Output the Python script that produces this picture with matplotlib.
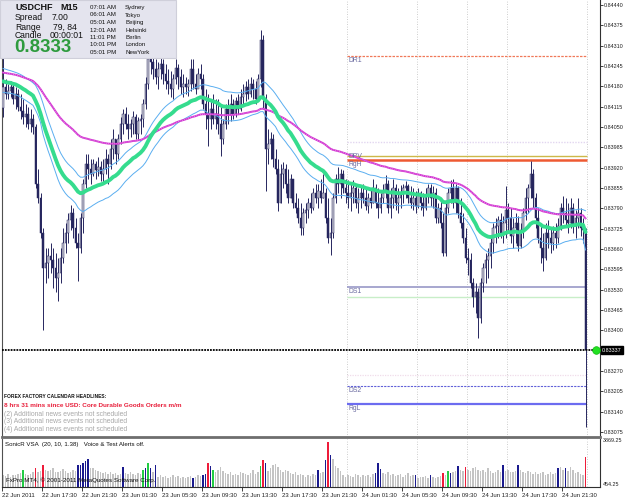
import matplotlib
matplotlib.use('Agg')
import matplotlib.pyplot as plt
from matplotlib.patches import Rectangle
from matplotlib.transforms import blended_transform_factory

# ---------------------------------------------------------
# USDCHF M15 bars, 22 Jun 2011 13:30 -> 24 Jun 2011 23:45
# ---------------------------------------------------------
first_open = 0.84110

highs = [
    0.84272, 0.84202, 0.84186, 0.84196, 0.84186, 0.84177, 0.84171, 0.84155, 0.84139, 0.84123,
    0.84114, 0.84107, 0.84091, 0.84060, 0.83917, 0.83838, 0.83727, 0.83663, 0.83663, 0.83679,
    0.83663, 0.83647, 0.83632, 0.83663, 0.83727, 0.83743, 0.83774, 0.83800, 0.83790, 0.83758,
    0.83711, 0.83774, 0.83885, 0.83964, 0.83964, 0.83949, 0.83949, 0.83942, 0.83955, 0.83942,
    0.83949, 0.83980, 0.83964, 0.84012, 0.84044, 0.84012, 0.84028, 0.84082, 0.84107, 0.84114,
    0.84091, 0.84075, 0.84101, 0.84091, 0.84082, 0.84091, 0.84139, 0.84209, 0.84282, 0.84297,
    0.84282, 0.84266, 0.84259, 0.84272, 0.84266, 0.84250, 0.84234, 0.84228, 0.84218, 0.84266,
    0.84250, 0.84234, 0.84218, 0.84209, 0.84202, 0.84266, 0.84266, 0.84218, 0.84240, 0.84250,
    0.84218, 0.84171, 0.84155, 0.84139, 0.84155, 0.84139, 0.84139, 0.84123, 0.84075, 0.84123,
    0.84139, 0.84155, 0.84139, 0.84145, 0.84155, 0.84171, 0.84186, 0.84196, 0.84202, 0.84209,
    0.84202, 0.84196, 0.84218, 0.84361, 0.84345, 0.84155, 0.84044, 0.84034, 0.84028, 0.83980,
    0.83949, 0.83933, 0.83939, 0.83933, 0.83917, 0.83901, 0.83885, 0.83838, 0.83822, 0.83806,
    0.83790, 0.83806, 0.83822, 0.83838, 0.83854, 0.83869, 0.83869, 0.83885, 0.83901, 0.83854,
    0.83822, 0.83758, 0.83838, 0.83901, 0.83923, 0.83917, 0.83911, 0.83885, 0.83879, 0.83869,
    0.83879, 0.83869, 0.83854, 0.83860, 0.83869, 0.83854, 0.83838, 0.83854, 0.83885, 0.83869,
    0.83854, 0.83838, 0.83869, 0.83895, 0.83879, 0.83854, 0.83885, 0.83869, 0.83854, 0.83863,
    0.83869, 0.83876, 0.83869, 0.83860, 0.83854, 0.83847, 0.83854, 0.83847, 0.83838, 0.83854,
    0.83869, 0.83869, 0.83860, 0.83854, 0.83806, 0.83822, 0.83774, 0.83806, 0.83854, 0.83879,
    0.83885, 0.83869, 0.83860, 0.83822, 0.83774, 0.83727, 0.83663, 0.83647, 0.83568, 0.83552,
    0.83536, 0.83568, 0.83616, 0.83647, 0.83663, 0.83695, 0.83743, 0.83758, 0.83765, 0.83774,
    0.83765, 0.83860, 0.83806, 0.83790, 0.83758, 0.83774, 0.83765, 0.83743, 0.83790, 0.83854,
    0.83869, 0.83942, 0.83917, 0.83838, 0.83790, 0.83743, 0.83711, 0.83743, 0.83752, 0.83727,
    0.83733, 0.83743, 0.83758, 0.83806, 0.83828, 0.83822, 0.83806, 0.83822, 0.83806, 0.83784,
    0.83822, 0.83790, 0.83758, 0.83727,
]

lows = [
    0.84082, 0.84139, 0.84139, 0.84145, 0.84123, 0.84107, 0.84101, 0.84075, 0.84060, 0.84050,
    0.84044, 0.84034, 0.84028, 0.83854, 0.83806, 0.83695, 0.83400, 0.83552, 0.83568, 0.83584,
    0.83536, 0.83521, 0.83495, 0.83552, 0.83616, 0.83647, 0.83679, 0.83720, 0.83695, 0.83663,
    0.83559, 0.83647, 0.83711, 0.83854, 0.83885, 0.83869, 0.83892, 0.83885, 0.83892, 0.83876,
    0.83869, 0.83901, 0.83869, 0.83917, 0.83949, 0.83933, 0.83949, 0.83996, 0.84028, 0.84044,
    0.84012, 0.84018, 0.84028, 0.84012, 0.84012, 0.84028, 0.84050, 0.84107, 0.84171, 0.84218,
    0.84202, 0.84186, 0.84171, 0.84202, 0.84186, 0.84171, 0.84155, 0.84145, 0.84139, 0.84186,
    0.84171, 0.84155, 0.84145, 0.84155, 0.84148, 0.84164, 0.84171, 0.84155, 0.84177, 0.84171,
    0.84107, 0.84044, 0.83990, 0.84044, 0.84060, 0.84044, 0.84028, 0.83958, 0.83996, 0.84044,
    0.84060, 0.84069, 0.84075, 0.84082, 0.84091, 0.84101, 0.84123, 0.84133, 0.84139, 0.84145,
    0.84139, 0.84123, 0.84139, 0.84177, 0.84107, 0.83844, 0.83933, 0.83949, 0.83923, 0.83901,
    0.83781, 0.83806, 0.83854, 0.83838, 0.83806, 0.83822, 0.83790, 0.83774, 0.83743, 0.83705,
    0.83705, 0.83743, 0.83758, 0.83774, 0.83784, 0.83806, 0.83790, 0.83806, 0.83822, 0.83743,
    0.83679, 0.83641, 0.83695, 0.83806, 0.83838, 0.83822, 0.83838, 0.83806, 0.83790, 0.83781,
    0.83806, 0.83790, 0.83774, 0.83790, 0.83806, 0.83784, 0.83774, 0.83790, 0.83806, 0.83790,
    0.83758, 0.83774, 0.83806, 0.83822, 0.83774, 0.83758, 0.83790, 0.83784, 0.83774, 0.83790,
    0.83806, 0.83822, 0.83806, 0.83790, 0.83784, 0.83774, 0.83790, 0.83784, 0.83765, 0.83784,
    0.83806, 0.83796, 0.83790, 0.83743, 0.83743, 0.83727, 0.83638, 0.83638, 0.83774, 0.83806,
    0.83790, 0.83774, 0.83758, 0.83727, 0.83679, 0.83616, 0.83578, 0.83536, 0.83473, 0.83457,
    0.83375, 0.83425, 0.83521, 0.83552, 0.83568, 0.83600, 0.83647, 0.83679, 0.83695, 0.83695,
    0.83679, 0.83695, 0.83711, 0.83679, 0.83663, 0.83679, 0.83654, 0.83663, 0.83695, 0.83752,
    0.83774, 0.83822, 0.83790, 0.83727, 0.83679, 0.83616, 0.83590, 0.83625, 0.83663, 0.83647,
    0.83657, 0.83663, 0.83679, 0.83720, 0.83743, 0.83733, 0.83711, 0.83727, 0.83711, 0.83695,
    0.83727, 0.83701, 0.83679, 0.83092,
]

closes = [
    0.84177, 0.84155, 0.84164, 0.84177, 0.84139, 0.84155, 0.84114, 0.84101, 0.84082, 0.84091,
    0.84060, 0.84075, 0.84050, 0.83869, 0.83822, 0.83711, 0.83600, 0.83616, 0.83638, 0.83625,
    0.83600, 0.83568, 0.83584, 0.83632, 0.83679, 0.83711, 0.83752, 0.83774, 0.83727, 0.83679,
    0.83663, 0.83758, 0.83869, 0.83933, 0.83917, 0.83901, 0.83933, 0.83911, 0.83923, 0.83901,
    0.83917, 0.83949, 0.83933, 0.83980, 0.84012, 0.83964, 0.84012, 0.84060, 0.84091, 0.84060,
    0.84044, 0.84060, 0.84082, 0.84028, 0.84069, 0.84075, 0.84123, 0.84186, 0.84266, 0.84259,
    0.84234, 0.84209, 0.84234, 0.84250, 0.84218, 0.84196, 0.84186, 0.84171, 0.84202, 0.84240,
    0.84209, 0.84177, 0.84186, 0.84177, 0.84186, 0.84234, 0.84186, 0.84171, 0.84218, 0.84202,
    0.84123, 0.84091, 0.84075, 0.84107, 0.84075, 0.84091, 0.84060, 0.84012, 0.84060, 0.84107,
    0.84091, 0.84123, 0.84091, 0.84133, 0.84107, 0.84145, 0.84155, 0.84177, 0.84155, 0.84186,
    0.84171, 0.84139, 0.84202, 0.84329, 0.84139, 0.83980, 0.83996, 0.84012, 0.83949, 0.83917,
    0.83806, 0.83901, 0.83917, 0.83869, 0.83822, 0.83885, 0.83806, 0.83790, 0.83758, 0.83727,
    0.83774, 0.83784, 0.83806, 0.83790, 0.83838, 0.83822, 0.83847, 0.83822, 0.83838, 0.83758,
    0.83695, 0.83711, 0.83822, 0.83885, 0.83869, 0.83901, 0.83854, 0.83838, 0.83822, 0.83838,
    0.83854, 0.83806, 0.83822, 0.83838, 0.83822, 0.83796, 0.83822, 0.83806, 0.83854, 0.83806,
    0.83790, 0.83822, 0.83838, 0.83869, 0.83790, 0.83822, 0.83854, 0.83806, 0.83822, 0.83838,
    0.83854, 0.83860, 0.83822, 0.83806, 0.83822, 0.83796, 0.83838, 0.83806, 0.83790, 0.83828,
    0.83854, 0.83822, 0.83838, 0.83758, 0.83790, 0.83743, 0.83647, 0.83790, 0.83838, 0.83854,
    0.83806, 0.83854, 0.83774, 0.83743, 0.83695, 0.83632, 0.83625, 0.83552, 0.83505, 0.83521,
    0.83441, 0.83552, 0.83600, 0.83625, 0.83638, 0.83679, 0.83727, 0.83733, 0.83752, 0.83711,
    0.83743, 0.83784, 0.83758, 0.83701, 0.83727, 0.83743, 0.83670, 0.83720, 0.83774, 0.83822,
    0.83854, 0.83901, 0.83822, 0.83758, 0.83695, 0.83663, 0.83632, 0.83711, 0.83695, 0.83679,
    0.83711, 0.83695, 0.83733, 0.83790, 0.83774, 0.83752, 0.83743, 0.83790, 0.83733, 0.83758,
    0.83774, 0.83727, 0.83720, 0.83337,
]

# tick volume per bar (panel scale 454.25 .. 3869.25) and SonicR VSA colouring
volumes = [
    1340, 1290, 1430, 1250, 1380, 1340, 1470, 1510, 1720, 1430,
    1380, 1470, 1560, 1870, 1600, 1690, 2160, 1780, 1650, 1730,
    1870, 1600, 1560, 1690, 1820, 1650, 1510, 1600, 1730, 1650,
    2090, 2160, 2310, 2460, 2610, 1870, 1910, 1780, 1690, 1600,
    1510, 1560, 1470, 1600, 1430, 1510, 1380, 1470, 1940, 1510,
    1430, 1600, 1470, 1380, 1510, 1430, 1720, 1870, 2240, 1870,
    1600, 2090, 1250, 1340, 1200, 1290, 1160, 1250, 1340, 1200,
    1290, 1160, 1250, 1120, 1200, 1290, 1130, 1250, 1340, 1290,
    1340, 1430, 2240, 2020, 1720, 1600, 1780, 1950, 1690, 1510,
    1430, 1560, 1340, 1470, 1380, 1600, 1510, 1430, 1340, 1510,
    1780, 1430, 1600, 2020, 2530, 2240, 1690, 1870, 2130, 2220,
    1950, 1780, 1600, 1730, 1650, 1510, 1430, 1560, 1340, 1470,
    1380, 1250, 1340, 1290, 1430, 1340, 1720, 1510, 1560, 2530,
    3869, 2900, 2610, 2040, 1870, 1690, 1340, 1250, 1380, 1290,
    1200, 1430, 1340, 1250, 1380, 1290, 1340, 1250, 1430, 1500,
    2240, 1790, 1510, 1430, 1600, 1340, 1470, 1290, 1380, 1430,
    1250, 1340, 1510, 1290, 1380, 1340, 1160, 1250, 1200, 1290,
    1160, 1340, 1200, 1160, 1250, 1290, 1500, 1340, 1640, 1500,
    1600, 1690, 2020, 1780, 1650, 1940, 1780, 1690, 1870, 1950,
    1780, 1650, 1730, 1600, 1870, 1690, 1510, 1600, 1780, 1560,
    2160, 1650, 1730, 1600, 1560, 1690, 2090, 1780, 1600, 1510,
    1690, 1560, 1470, 1600, 1430, 1510, 1560, 1380, 1470, 1600,
    1430, 1510, 1870, 1950, 1780, 1870, 1690, 1950, 1780, 1510,
    1600, 1430, 1340, 2750,
]
vsa_blue = [30, 31, 32, 33, 34, 48, 57, 59, 61, 76, 80, 81, 83, 105, 126, 129, 131,
            149, 150, 151, 165, 171, 179, 182, 200, 206, 222, 225]
vsa_red = [13, 16, 82, 104, 130, 176, 185, 233]
vsa_green = [8, 56, 58, 84, 103, 178]
vol_min = 454.25
vol_max = 3869.25

# EMA values at the first bar
ema34_close_start = 0.84196
ema34_high_start = 0.84237
ema34_low_start = 0.84161
ema89_start = 0.84224

current_price = 0.83337

# 24 Jun sessions (bar index): day open, 07:00, 12:00, 16:00, last bar edge
session_bars = [138, 166, 186, 202, 234]

# daily levels drawn from the 24 Jun open
dr1 = 0.84278
prev_high = 0.84003
dpv = 0.83958
rgh = 0.83946
ds1 = 0.83540
ds1_mid = 0.83505
prev_low = 0.83258
ds2 = 0.83222
rgl = 0.83165

price_ticks = [0.84440, 0.84375, 0.84310, 0.84245, 0.84180, 0.84115, 0.84050,
               0.83985, 0.83920, 0.83855, 0.83790, 0.83725, 0.83660, 0.83595,
               0.83530, 0.83465, 0.83400, 0.83270, 0.83205, 0.83140, 0.83075]
time_ticks = [0, 16, 32, 48, 64, 80, 96, 112, 128, 144, 160, 176, 192, 208, 224]
time_labels = ['22 Jun 2011', '22 Jun 17:30', '22 Jun 21:30', '23 Jun 01:30',
               '23 Jun 05:30', '23 Jun 09:30', '23 Jun 13:30', '23 Jun 17:30',
               '23 Jun 21:30', '24 Jun 01:30', '24 Jun 05:30', '24 Jun 09:30',
               '24 Jun 13:30', '24 Jun 17:30', '24 Jun 21:30']

city_times = ['07:01 AM', '06:01 AM', '05:01 AM', '12:01 AM', '11:01 PM', '10:01 PM', '05:01 PM']
city_names = ['Sydney', 'Tokyo', 'Beijing', 'Helsinki', 'Berlin', 'London', 'NewYork']

news_lines = ['(2) Additional news events not scheduled',
              '(3) Additional news events not scheduled',
              '(4) Additional news events not scheduled']

W, H = 625, 500


def fx(px):
    return px / W


def fy(py):
    return 1 - py / H


def ema(values, period, start):
    k = 2.0 / (period + 1)
    out = [start]
    for v in values[1:]:
        out.append(out[-1] + k * (v - out[-1]))
    return out


def create_chart():
    n = len(closes)
    assert len(highs) == n and len(lows) == n and len(volumes) == n

    plt.rcParams['font.family'] = ['Liberation Sans', 'DejaVu Sans']
    fig = plt.figure(figsize=(6.25, 5.0), dpi=100, facecolor='white')

    ax = fig.add_axes([fx(2), fy(437), fx(600) - fx(2), fy(0) - fy(437)])
    vax = fig.add_axes([fx(2), fy(487), fx(600) - fx(2), fy(439) - fy(487)])

    x = list(range(n))
    opens = [first_open] + closes[:-1]
    navy = '#26265E'

    # candles
    ax.vlines(x, lows, highs, color=navy, lw=0.7, zorder=3)
    body_bottom = [min(o, c) for o, c in zip(opens, closes)]
    body_height = [max(abs(c - o), 0.00002) for o, c in zip(opens, closes)]
    body_color = ['#C6C6D2' if c >= o else navy for o, c in zip(opens, closes)]
    ax.bar(x, body_height, bottom=body_bottom, width=0.66, color=body_color,
           edgecolor=navy, linewidth=0.35, zorder=4)

    # SonicR dragon (EMA34 high/close/low) and trend EMA89
    ax.plot(x, ema(highs, 34, ema34_high_start), color='#5AAEF0', lw=0.7, zorder=5)
    ax.plot(x, ema(lows, 34, ema34_low_start), color='#5AAEF0', lw=0.7, zorder=5)
    trend = ema(closes, 89, ema89_start)
    ax.plot(x, trend, color='#D238D2', lw=1.4, zorder=5)
    ax.plot(x, trend, color='#F4B0F0', lw=0.5, linestyle=(0, (1, 2)), zorder=5)
    ax.plot(x, ema(closes, 34, ema34_close_start), color='#35DC8E', lw=2.8,
            solid_capstyle='round', zorder=6)

    # daily levels
    x0, x1 = session_bars[0] - 0.5, session_bars[-1] - 0.5
    ax.hlines(dr1, x0, x1, color='#F07858', lw=0.9, linestyles=(0, (2, 1)), zorder=2)
    ax.hlines(prev_high, x0, x1, color='#E2D6F0', lw=1.0, linestyles=(0, (1, 1)), zorder=2)
    ax.hlines(dpv, x0, x1, color='#CDB848', lw=1.0, zorder=2)
    ax.hlines(rgh, x0, x1, color='#EE5A32', lw=1.8, zorder=2)
    ax.hlines(ds1, x0, x1, color='#A0A0CC', lw=1.3, zorder=2)
    ax.hlines(ds1_mid, x0, x1, color='#C8EEC8', lw=1.0, zorder=2)
    ax.hlines(prev_low, x0, x1, color='#F0DCEA', lw=0.9, linestyles=(0, (1, 1)), zorder=2)
    ax.hlines(ds2, x0, x1, color='#6060D8', lw=0.8, linestyles=(0, (2, 1)), zorder=2)
    ax.hlines(rgl, x0, x1, color='#6C6CF0', lw=1.6, zorder=2)
    lab_kw = dict(fontsize=4.9, color='#6A6AA0', va='top', ha='left', zorder=7)
    ax.text(x0 + 0.6, dr1 - 0.00004, 'DR1', **lab_kw)
    ax.text(x0 + 0.6, dpv + 0.00008, 'DPV', **lab_kw)
    ax.text(x0 + 0.6, rgh - 0.00004, 'RgH', **lab_kw)
    ax.text(x0 + 0.6, ds1 - 0.00004, 'DS1', **lab_kw)
    ax.text(x0 + 0.6, ds2 - 0.00004, 'DS2', **lab_kw)
    ax.text(x0 + 0.6, rgl - 0.00004, 'RgL', **lab_kw)

    # session separators
    for b in session_bars:
        for a in (ax, vax):
            a.axvline(b - 0.5, color='#BDBDBD', lw=0.6, linestyle=(0, (1, 2)), zorder=1)

    # current price line, label and marker
    ax.axhline(current_price, color='black', lw=1.3, linestyle=(0, (1, 0.6)), zorder=6)
    trans = blended_transform_factory(ax.transAxes, ax.transData)
    ax.text(1.003, current_price, '0.83337', transform=trans, fontsize=3.9,
            color='white', va='center', ha='left', zorder=8, clip_on=False,
            bbox=dict(boxstyle='square,pad=0.2', fc='black', ec='black'))
    ax.plot([n + 3.2], [current_price], 'o', ms=5.5, color='#22E022',
            mec='#11BB11', mew=0.5, zorder=9, clip_on=False)

    ax.set_xlim(-0.4, 238.8)
    ax.set_ylim(0.83059, 0.84456)
    ax.yaxis.tick_right()
    ax.set_yticks(price_ticks)
    ax.set_yticklabels(['%.5f' % p for p in price_ticks])
    ax.tick_params(axis='y', labelsize=3.9, length=2, width=0.6, pad=0.8,
                   colors='#202020')
    ax.set_xticks([])
    ax.spines['top'].set_visible(False)
    ax.spines['left'].set_color('#505050')
    ax.spines['right'].set_color('#303030')
    ax.spines['right'].set_linewidth(0.8)
    ax.spines['bottom'].set_color('#6E6E6E')
    ax.spines['bottom'].set_linewidth(2.0)

    # news headlines
    ax.text(0.003, 0.093, 'FOREX FACTORY CALENDAR HEADLINES:', transform=ax.transAxes,
            fontsize=3.5, fontweight='bold', color='#101010', va='center', zorder=7)
    ax.text(0.003, 0.071, '8 hrs 31 mins since USD: Core Durable Goods Orders m/m',
            transform=ax.transAxes, fontsize=4.6, fontweight='bold', color='#E8203C',
            va='center', zorder=7)
    for k, line in enumerate(news_lines):
        ax.text(0.003, 0.052 - 0.0172 * k, line, transform=ax.transAxes,
                fontsize=4.9, color='#A8A8A8', va='center', zorder=7)

    # volume panel
    vcolors = ['#C4C4C4'] * n
    for i in vsa_blue:
        vcolors[i] = '#1A1A8E'
    for i in vsa_red:
        vcolors[i] = '#EE1C3A'
    for i in vsa_green:
        vcolors[i] = '#22CC44'
    vax.bar(x, volumes, width=0.7, color=vcolors, linewidth=0, zorder=2)
    vax.set_xlim(-0.4, 238.8)
    vax.set_ylim(vol_min, vol_min + (vol_max - vol_min) * 48 / 45)
    vax.set_yticks([])
    vax.set_xticks([t - 0.4 for t in time_ticks])
    vax.set_xticklabels(time_labels, ha='left')
    vax.tick_params(axis='x', labelsize=4.3, length=3, width=0.6, pad=1.5,
                    colors='#202020')
    vax.spines['top'].set_visible(False)
    vax.spines['left'].set_color('#505050')
    vax.spines['right'].set_color('#303030')
    vax.spines['right'].set_linewidth(0.8)
    vax.spines['bottom'].set_color('#303030')
    vax.spines['bottom'].set_linewidth(0.8)
    vax.text(0.005, 0.93, 'SonicR VSA  (20, 10, 1.38)   Voice & Test Alerts off.',
             transform=vax.transAxes, fontsize=4.4, color='#101010', va='top', zorder=5)
    vax.text(0.006, 0.08, 'FxPro MT4, \u00a9 2001-2011 MetaQuotes Software Corp.',
             transform=vax.transAxes, fontsize=4.5, color='#101010', va='bottom', zorder=5)
    fig.text(fx(603), fy(441), '%.2f' % vol_max, fontsize=3.9, color='#202020', va='center')
    fig.text(fx(603), fy(484), '%.2f' % vol_min, fontsize=3.9, color='#202020', va='center')

    # info box
    fig.add_artist(Rectangle((0, fy(58)), fx(176), 58 / H, transform=fig.transFigure,
                             facecolor='#E4E4EE', edgecolor='#CFCFDA', lw=0.8, zorder=10))
    tk = dict(zorder=11, va='center', ha='left')
    fig.text(fx(15), fy(8), 'USDCHF', fontsize=6.5, fontweight='bold', color='#111111', **tk)
    fig.text(fx(60), fy(8), 'M15', fontsize=6.5, fontweight='bold', color='#111111', **tk)
    fig.text(fx(15), fy(18), 'Spread', fontsize=6.2, color='#111111', **tk)
    fig.text(fx(52), fy(18), '7.00', fontsize=6.2, color='#111111', **tk)
    fig.text(fx(15), fy(27), 'Range', fontsize=6.2, color='#111111', **tk)
    fig.text(fx(53), fy(27), '79, 84', fontsize=6.2, color='#111111', **tk)
    fig.text(fx(15), fy(35.5), 'Candle', fontsize=6.2, color='#111111', **tk)
    fig.text(fx(50), fy(35.5), '00:00:01', fontsize=6.2, color='#111111', **tk)
    fig.text(fx(14), fy(48), '0.8333', fontsize=13.5, fontweight='bold', color='#2E9B3E', **tk)
    for k, (t, c) in enumerate(zip(city_times, city_names)):
        yy = 7.5 + 7.5 * k
        fig.text(fx(90), fy(yy), t, fontsize=4.4, color='#111111', **tk)
        fig.text(fx(125), fy(yy), c, fontsize=4.4, color='#111111', **tk)

    fig.savefig('out.png', dpi=100, facecolor='white')
    plt.close(fig)


if __name__ == '__main__':
    create_chart()
